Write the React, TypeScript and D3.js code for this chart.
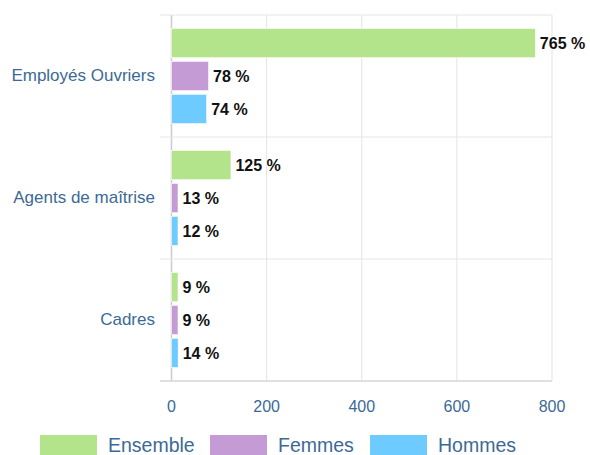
import React from "react";
import * as d3 from "d3";

const categories = ["Employés Ouvriers", "Agents de maîtrise", "Cadres"];
const seriesNames = ["Ensemble", "Femmes", "Hommes"];
const ensemble = [765, 125, 9];
const femmes = [78, 13, 9];
const hommes = [74, 12, 14];
const xTicks = [0, 200, 400, 600, 800];

const colors = ["#b3e48b", "#c49bd4", "#6ecbff"];
const labelBlue = "#3b6a96";
const FONT = "'Liberation Sans', Arial, sans-serif";
const MIN_POINT_LENGTH = 6.5;

export default function App() {
  const W = 590, H = 455;
  const left = 171.5, right = 552, top = 15, bottom = 381;
  const x = d3.scaleLinear().domain([0, 800]).range([left, right]);
  const y = d3.scaleBand<string>().domain(categories).range([top, bottom]);
  const bw = y.bandwidth();
  const inner = d3
    .scaleBand<string>()
    .domain(seriesNames)
    .range([bw * 0.11, bw * 0.89])
    .paddingInner(0.11);
  const values = [ensemble, femmes, hommes];

  const legendX = [40, 210, 370];

  return (
    <svg
      width={W}
      height={H}
      style={{ position: "fixed", left: 0, top: 0, background: "#fff" }}
      fontFamily={FONT}
    >
      <rect width={W} height={H} fill="#fff" />
      {xTicks.map((t) => (
        <line
          key={"g" + t}
          x1={x(t)}
          x2={x(t)}
          y1={top}
          y2={bottom}
          stroke={t === 0 ? "#cccccc" : "#e3e3e3"}
          strokeWidth={t === 0 ? 1.5 : 1}
        />
      ))}
      {[...categories.map((c) => y(c)!), bottom].map((yy, i) => (
        <line
          key={"h" + i}
          x1={160}
          x2={right}
          y1={yy}
          y2={yy}
          stroke={i === categories.length ? "#d6d6d6" : "#e6e6e6"}
          strokeWidth={i === categories.length ? 1.5 : 1}
        />
      ))}
      {categories.map((c, ci) =>
        seriesNames.map((s, si) => {
          const v = values[si][ci];
          const by = y(c)! + inner(s)!;
          const len = Math.max(x(v) - x(0), MIN_POINT_LENGTH);
          return (
            <g key={c + s}>
              <rect
                x={x(0)}
                y={by}
                width={len}
                height={inner.bandwidth()}
                fill={colors[si]}
                stroke="#ffffff"
                strokeWidth={0.6}
              />
              <text
                x={x(0) + len + 4.5}
                y={by + inner.bandwidth() / 2}
                dy="0.36em"
                fontSize={16}
                fontWeight="bold"
                fill="#111111"
                stroke="#ffffff"
                strokeWidth={2}
                paintOrder="stroke"
                strokeLinejoin="round"
              >
                {v} %
              </text>
            </g>
          );
        })
      )}
      {categories.map((c) => (
        <text
          key={"c" + c}
          x={155}
          y={y(c)! + bw / 2}
          dy="0.3em"
          textAnchor="end"
          fontSize={17}
          fill={labelBlue}
        >
          {c}
        </text>
      ))}
      {xTicks.map((t) => (
        <text
          key={"t" + t}
          x={x(t)}
          y={406}
          dy="0.35em"
          textAnchor="middle"
          fontSize={16}
          fill={labelBlue}
        >
          {t}
        </text>
      ))}
      {seriesNames.map((s, i) => (
        <g key={"l" + s}>
          <rect x={legendX[i]} y={435} width={57} height={22} fill={colors[i]} />
          <text x={legendX[i] + 68} y={452} fontSize={19.5} fill={labelBlue}>
            {s}
          </text>
        </g>
      ))}
    </svg>
  );
}
